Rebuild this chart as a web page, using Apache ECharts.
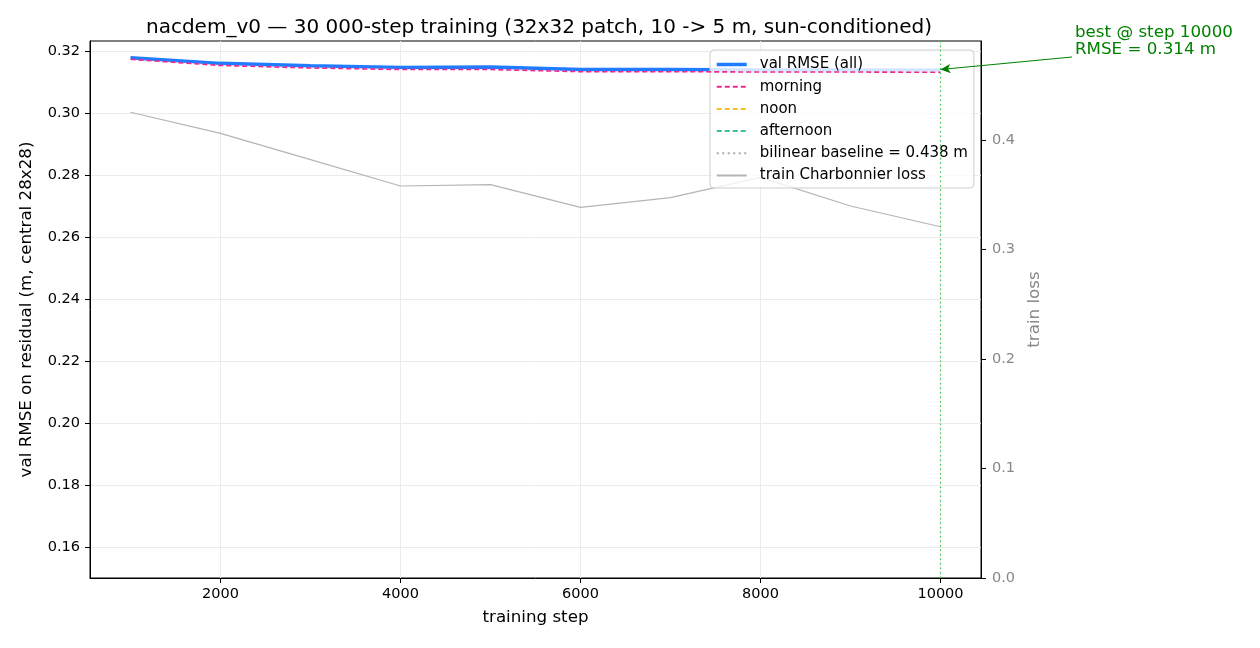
<!DOCTYPE html>
<html>
<head>
<meta charset="utf-8">
<script src="https://cdn.jsdelivr.net/npm/echarts@6/dist/echarts.min.js"></script>
<style>html,body{margin:0;padding:0;background:#fff}#c{width:1260px;height:648px}</style>
</head>
<body>
<div id="c"></div>
<script>
const steps = [1000, 2000, 3000, 4000, 5000, 6000, 7000, 8000, 9000, 10000];
const valAll = [0.3178, 0.3160, 0.3152, 0.3147, 0.3148, 0.3140, 0.3140, 0.3139, 0.3139, 0.3138];
const valMorning = [0.3173, 0.3153, 0.3145, 0.3140, 0.3140, 0.3133, 0.3133, 0.3132, 0.3132, 0.3131];
const valNoon = [];
const valAfternoon = [];
const trainLoss = [0.4253, 0.4061, 0.382, 0.358, 0.3592, 0.3385, 0.3473, 0.3659, 0.3397, 0.3208];
const baselineRMSE = 0.438;
const bestStep = 10000;
const bestRMSE = 0.314;
const xTicks = [2000, 4000, 6000, 8000, 10000];
const yTicks = [0.16, 0.18, 0.20, 0.22, 0.24, 0.26, 0.28, 0.30, 0.32];
const lossTicks = [0.0, 0.1, 0.2, 0.3, 0.4];

const FONT = 'DejaVu Sans';
const pairs = (vals) => vals.map((v, i) => [steps[i], v]);
const baselineName = 'bilinear baseline = ' + baselineRMSE.toFixed(3) + ' m';

const chart = echarts.init(document.getElementById('c'), null, {renderer: 'canvas'});
chart.setOption({
  animation: false,
  textStyle: {fontFamily: FONT},
  title: {
    text: 'nacdem_v0 \u2014 30 000-step training (32x32 patch, 10 -> 5 m, sun-conditioned)',
    left: 141, top: 13,
    textStyle: {fontFamily: FONT, fontSize: 20, fontWeight: 'normal', color: '#000'}
  },
  grid: {left: 90, right: 279, top: 41, bottom: 70, show: true, borderColor: '#000', borderWidth: 1, backgroundColor: 'transparent'},
  legend: {
    orient: 'vertical', left: 710, top: 50,
    padding: [7, 6, 5, 5],
    itemWidth: 30, itemHeight: 14, itemGap: 7.2,
    backgroundColor: 'rgba(255,255,255,0.8)', borderColor: '#cccccc', borderWidth: 1, borderRadius: 4,
    itemStyle: {opacity: 0},
    textStyle: {fontFamily: FONT, fontSize: 15, color: '#000', padding: [0, 0, 0, 8]},
    data: [
      {name: 'val RMSE (all)', lineStyle: {width: 3.5}},
      {name: 'morning', lineStyle: {width: 2}},
      {name: 'noon', lineStyle: {width: 2}},
      {name: 'afternoon', lineStyle: {width: 2}},
      {name: baselineName, lineStyle: {width: 2}},
      {name: 'train Charbonnier loss', lineStyle: {width: 2}}
    ],
    selectedMode: false
  },
  xAxis: {
    type: 'value', min: 550, max: 10450,
    name: 'training step', nameLocation: 'middle', nameGap: 31,
    nameTextStyle: {fontFamily: FONT, fontSize: 16.7, color: '#000'},
    axisLine: {show: true, lineStyle: {color: '#000', width: 1}},
    axisTick: {show: true, inside: false, length: 5, lineStyle: {color: '#000'}, customValues: xTicks},
    axisLabel: {customValues: xTicks, fontFamily: FONT, fontSize: 14.5, color: '#000', margin: 9, formatter: v => String(v)},
    splitLine: {show: true, lineStyle: {color: '#ebebeb', width: 1}}
  },
  yAxis: [{
    type: 'value', min: 0.15, max: 0.3232, position: 'left',
    name: 'val RMSE on residual (m, central 28x28)', nameLocation: 'middle', nameGap: 55,
    nameTextStyle: {fontFamily: FONT, fontSize: 16.7, color: '#000'},
    axisLine: {show: true, lineStyle: {color: '#000', width: 1}},
    axisTick: {show: true, inside: false, length: 5, lineStyle: {color: '#000'}, customValues: yTicks},
    axisLabel: {customValues: yTicks, fontFamily: FONT, fontSize: 14.5, color: '#000', margin: 10, formatter: v => v.toFixed(2)},
    splitLine: {show: true, lineStyle: {color: '#ebebeb', width: 1}}
  }, {
    type: 'value', min: 0, max: 0.4904, position: 'right',
    name: 'train loss', nameLocation: 'middle', nameGap: 44,
    nameTextStyle: {fontFamily: FONT, fontSize: 16.7, color: '#888888'},
    axisLine: {show: true, lineStyle: {color: '#000', width: 1}},
    axisTick: {show: true, inside: false, length: 5, lineStyle: {color: '#000'}, customValues: lossTicks},
    axisLabel: {customValues: lossTicks, fontFamily: FONT, fontSize: 14.5, color: '#888888', margin: 11, formatter: v => v.toFixed(1)},
    splitLine: {show: false}
  }],
  series: [{
    name: 'train Charbonnier loss', type: 'line', yAxisIndex: 1, data: pairs(trainLoss),
    symbol: 'none', lineStyle: {color: '#b5b5b5', width: 1.2}, itemStyle: {color: '#b5b5b5'}, z: 1, silent: true
  }, {
    name: 'val RMSE (all)', type: 'line', yAxisIndex: 0, data: pairs(valAll),
    symbol: 'none', lineStyle: {color: '#1f7cff', width: 3.4}, itemStyle: {color: '#1f7cff'}, z: 3, silent: true,
    markLine: {
      silent: true, symbol: 'none', animation: false,
      label: {show: false},
      lineStyle: {color: '#33cc44', width: 1.2, type: [1.5, 3]},
      data: [{xAxis: bestStep}]
    }
  }, {
    name: 'morning', type: 'line', yAxisIndex: 0, data: pairs(valMorning),
    symbol: 'none', lineStyle: {color: '#f0288c', width: 1.6, type: [5, 3]}, itemStyle: {color: '#f0288c'}, z: 4, silent: true,
    markLine: {
      silent: true, animation: false,
      symbol: ['arrow', 'none'], symbolSize: [7, 10], symbolOffset: [0, 6],
      label: {show: false},
      lineStyle: {color: '#008000', width: 1.2, type: 'solid'},
      data: [[{coord: [bestStep, bestRMSE]}, {x: 1072, y: 57}]]
    }
  }, {
    name: 'noon', type: 'line', yAxisIndex: 0, data: pairs(valNoon),
    symbol: 'none', lineStyle: {color: '#fbbf24', width: 1.5, type: [5, 3]}, itemStyle: {color: '#fbbf24'}, silent: true
  }, {
    name: 'afternoon', type: 'line', yAxisIndex: 0, data: pairs(valAfternoon),
    symbol: 'none', lineStyle: {color: '#3cc48f', width: 1.5, type: [5, 3]}, itemStyle: {color: '#3cc48f'}, silent: true
  }, {
    name: baselineName, type: 'line', yAxisIndex: 0,
    data: steps.map(s => [s, baselineRMSE]), clip: true,
    symbol: 'none', lineStyle: {color: '#aaaaaa', width: 2, type: [2, 3.5]}, itemStyle: {color: '#aaaaaa'}, silent: true
  }],
  graphic: [{
    type: 'text', left: 1075, top: 24, silent: true,
    style: {
      text: 'best @ step ' + bestStep + '\nRMSE = ' + bestRMSE.toFixed(3) + ' m',
      fill: '#008000', font: '16.7px "DejaVu Sans"', lineHeight: 17
    }
  }]
});
</script>
</body>
</html>
